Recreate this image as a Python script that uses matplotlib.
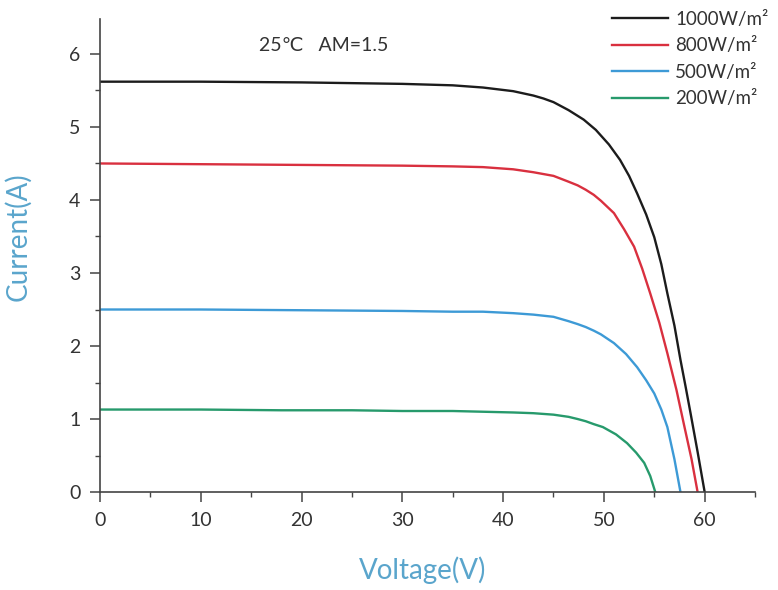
import numpy as np
import matplotlib.pyplot as plt
from matplotlib.ticker import MultipleLocator, FixedLocator

plt.rcParams['font.family'] = ['Lato', 'DejaVu Sans']

# I-V curves (voltage in V, current in A)
v_1000 = [0, 10, 20, 30, 35, 38, 41, 43, 44, 45, 46.5, 48, 49.2, 50.5, 51.6, 52.5, 53.3,
          54.2, 55.0, 55.7, 56.3, 57.0, 57.6, 58.1, 58.6, 59.3, 60.0]
i_1000 = [5.62, 5.62, 5.61, 5.59, 5.57, 5.54, 5.49, 5.43, 5.39, 5.34, 5.23, 5.10, 4.96,
          4.76, 4.55, 4.33, 4.09, 3.80, 3.49, 3.12, 2.72, 2.28, 1.81, 1.45, 1.08, 0.55, 0.0]

v_800 = [0, 10, 20, 30, 35, 38, 41, 43, 45, 46.5, 47.4, 48.2, 49.0, 49.7, 51.0, 52.0,
         53.0, 53.8, 54.6, 55.5, 56.3, 57.2, 58.0, 58.7, 59.3]
i_800 = [4.50, 4.49, 4.48, 4.47, 4.46, 4.45, 4.42, 4.38, 4.33, 4.25, 4.20, 4.14, 4.07,
         3.99, 3.82, 3.60, 3.36, 3.06, 2.72, 2.32, 1.90, 1.40, 0.89, 0.45, 0.0]

v_500 = [0, 10, 20, 30, 35, 38, 41, 43, 45, 46.5, 47.4, 48.2, 49.0, 49.7, 51.0, 52.2,
         53.3, 54.2, 55.0, 55.7, 56.3, 57.0, 57.6]
i_500 = [2.50, 2.50, 2.49, 2.48, 2.47, 2.47, 2.45, 2.43, 2.40, 2.34, 2.30, 2.26, 2.21,
         2.16, 2.04, 1.89, 1.71, 1.53, 1.35, 1.13, 0.89, 0.45, 0.0]

v_200 = [0, 10, 18, 25, 30, 35, 38, 41, 43, 45, 46.5, 47.4, 48.2, 49.0, 49.9, 51.2,
         52.3, 53.2, 54.0, 54.6, 55.1]
i_200 = [1.13, 1.13, 1.12, 1.12, 1.11, 1.11, 1.10, 1.09, 1.08, 1.06, 1.03, 1.00, 0.97,
         0.93, 0.89, 0.79, 0.67, 0.54, 0.40, 0.22, 0.0]

labels = ['1000W/m²', '800W/m²', '500W/m²', '200W/m²']
colors = ['#1c1c1c', '#d9303f', '#3d9ad6', '#279a6c']

fig = plt.figure(figsize=(7.78, 5.90), dpi=100)
ax = fig.add_axes([0.1285, 0.166, 0.842, 0.802])

for v, i, lab, c in zip([v_1000, v_800, v_500, v_200],
                        [i_1000, i_800, i_500, i_200], labels, colors):
    ax.plot(v, i, color=c, lw=1.7, label=lab, solid_joinstyle='round')

ax.set_xlim(0, 65)
ax.set_ylim(0, 6.48)
ax.xaxis.set_major_locator(FixedLocator(range(0, 61, 10)))
ax.xaxis.set_minor_locator(FixedLocator([5, 15, 25, 35, 45, 55, 65]))
ax.yaxis.set_major_locator(MultipleLocator(1))
ax.yaxis.set_minor_locator(MultipleLocator(0.5))

for s in ['top', 'right']:
    ax.spines[s].set_visible(False)
for s in ['left', 'bottom']:
    ax.spines[s].set_color('#444444')
    ax.spines[s].set_linewidth(1.2)

ax.tick_params(which='major', direction='out', length=7, width=1.1,
               color='#444444', labelsize=14, labelcolor='#333333', pad=7)
ax.tick_params(which='minor', direction='out', length=3.5, width=1.0, color='#444444')

ax.set_xlabel('Voltage(V)', fontsize=20, color='#5aa5cc')
ax.xaxis.set_label_coords(0.492, -0.135)
ax.set_ylabel('Current(A)', fontsize=20, color='#5aa5cc')
ax.yaxis.set_label_coords(-0.104, 0.54)

ax.text(15.8, 6.12, '25℃   AM=1.5', fontsize=14, color='#333333', va='center')

fig.legend(loc='upper left', bbox_to_anchor=(0.765, 1.01), frameon=False,
           fontsize=13.5, handlelength=3.0, handletextpad=0.36, labelspacing=0.5,
           labelcolor='#333333')

fig.savefig('out.png', dpi=100)
